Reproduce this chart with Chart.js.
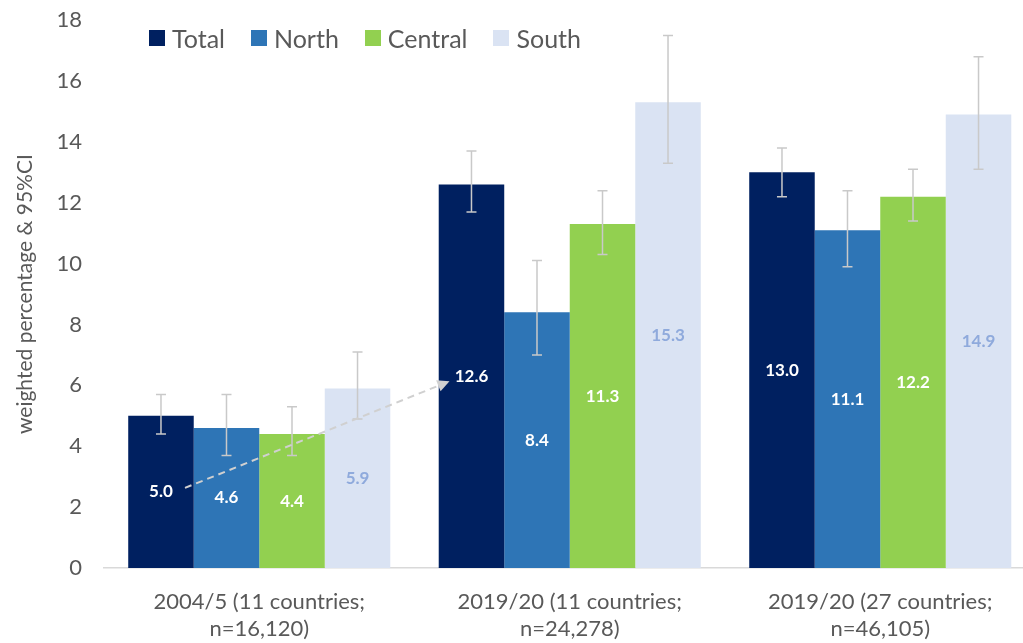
<!DOCTYPE html>
<html>
<head>
<meta charset="utf-8">
<script src="https://cdn.jsdelivr.net/npm/chart.js@4.4.1/dist/chart.umd.min.js"></script>
<style>
  html, body { margin: 0; padding: 0; background: #fff; overflow: hidden; }
  #wrap { position: relative; width: 1040px; height: 650px; margin-top: -7px; }
  #legend {
    position: absolute; top: 30px; left: 149px;
    display: flex; font-family: Lato, sans-serif; font-size: 25px; color: #595959;
  }
  #legend .item { display: flex; align-items: center; margin-right: 26px; }
  #legend .box { width: 16px; height: 16px; margin-right: 7px; }
</style>
</head>
<body>
<div id="wrap">
  <canvas id="prevChart"></canvas>
  <div id="legend"></div>
</div>
<script>
// Survey groups and regional series
const categories = [
    ['2004/5 (11 countries;', 'n=16,120)'],
    ['2019/20 (11 countries;', 'n=24,278)'],
    ['2019/20 (27 countries;', 'n=46,105)']
];
const seriesNames = ['Total', 'North', 'Central', 'South'];
const seriesColors = ['#002060', '#2E75B6', '#92D050', '#DAE3F3'];
const labelColors = ['#ffffff', '#ffffff', '#ffffff', '#8FAADC'];

const total = [5.0, 12.6, 13.0];
const north = [4.6, 8.4, 11.1];
const central = [4.4, 11.3, 12.2];
const south = [5.9, 15.3, 14.9];

// 95% confidence intervals
const totalLow = [4.4, 11.7, 12.2];
const totalHigh = [5.7, 13.7, 13.8];
const northLow = [3.7, 7.0, 9.9];
const northHigh = [5.7, 10.1, 12.4];
const centralLow = [3.7, 10.3, 11.4];
const centralHigh = [5.3, 12.4, 13.1];
const southLow = [4.9, 13.3, 13.1];
const southHigh = [7.1, 17.5, 16.8];

const values = [total, north, central, south];
const lows = [totalLow, northLow, centralLow, southLow];
const highs = [totalHigh, northHigh, centralHigh, southHigh];

const textGrey = '#595959';

// error bars drawn on top of each bar
const errorBars = {
    id: 'errorBars',
    afterDatasetsDraw(chart) {
        const ctx = chart.ctx;
        const y = chart.scales.y;
        ctx.save();
        ctx.strokeStyle = '#c9c9c9';
        ctx.lineWidth = 1.5;
        chart.data.datasets.forEach((ds, i) => {
            chart.getDatasetMeta(i).data.forEach((bar, j) => {
                const top = y.getPixelForValue(highs[i][j]);
                const bot = y.getPixelForValue(lows[i][j]);
                ctx.beginPath();
                ctx.moveTo(bar.x, top); ctx.lineTo(bar.x, bot);
                ctx.moveTo(bar.x - 5, top); ctx.lineTo(bar.x + 5, top);
                ctx.moveTo(bar.x - 5, bot); ctx.lineTo(bar.x + 5, bot);
                ctx.stroke();
            });
        });
        ctx.restore();
    }
};

// value labels centred in the bars, plus the dashed arrow between the two Total bars
const barLabels = {
    id: 'barLabels',
    afterDatasetsDraw(chart) {
        const ctx = chart.ctx;
        ctx.save();
        ctx.font = 'bold 17px Lato, sans-serif';
        ctx.textAlign = 'center';
        ctx.textBaseline = 'middle';
        chart.data.datasets.forEach((ds, i) => {
            ctx.fillStyle = labelColors[i];
            chart.getDatasetMeta(i).data.forEach((bar, j) => {
                ctx.fillText(ds.data[j].toFixed(1), bar.x, (bar.y + bar.base) / 2);
            });
        });

        const t = chart.getDatasetMeta(0).data;
        const x1 = t[0].x + 24, y1 = (t[0].y + t[0].base) / 2 - 4;
        const x2 = t[1].x - 22, y2 = (t[1].y + t[1].base) / 2 + 5;
        ctx.strokeStyle = '#d0d0d0';
        ctx.fillStyle = '#d0d0d0';
        ctx.lineWidth = 2;
        ctx.setLineDash([7, 5]);
        const ang = Math.atan2(y2 - y1, x2 - x1);
        const hx = x2 - 12 * Math.cos(ang), hy = y2 - 12 * Math.sin(ang);
        ctx.beginPath();
        ctx.moveTo(x1, y1); ctx.lineTo(hx, hy);
        ctx.stroke();
        ctx.setLineDash([]);
        ctx.beginPath();
        ctx.moveTo(x2, y2);
        ctx.lineTo(hx + 6 * Math.sin(ang), hy - 6 * Math.cos(ang));
        ctx.lineTo(hx - 6 * Math.sin(ang), hy + 6 * Math.cos(ang));
        ctx.closePath();
        ctx.fill();
        ctx.restore();
    }
};

function buildLegend() {
    const el = document.getElementById('legend');
    seriesNames.forEach((name, i) => {
        const item = document.createElement('div');
        item.className = 'item';
        const box = document.createElement('span');
        box.className = 'box';
        box.style.background = seriesColors[i];
        const txt = document.createElement('span');
        txt.textContent = name;
        item.appendChild(box);
        item.appendChild(txt);
        el.appendChild(item);
    });
}

function createPrevChart() {
    const ctx = document.getElementById('prevChart').getContext('2d');
    new Chart(ctx, {
        type: 'bar',
        data: {
            labels: categories,
            datasets: seriesNames.map((name, i) => ({
                label: name,
                data: values[i],
                backgroundColor: seriesColors[i],
                categoryPercentage: 0.844,
                barPercentage: 1.0
            }))
        },
        options: {
            responsive: true,
            maintainAspectRatio: false,
            animation: false,
            layout: { padding: { top: 3, right: 4.5, left: 0, bottom: 0 } },
            plugins: {
                legend: { display: false },
                tooltip: { enabled: false }
            },
            scales: {
                x: {
                    grid: { display: false },
                    border: { color: '#d9d9d9', width: 1.5 },
                    ticks: {
                        color: textGrey,
                        padding: 12,
                        maxRotation: 0,
                        font: { family: 'Lato', size: 22, lineHeight: 1.23 }
                    },
                    afterFit(scale) { scale.height = 75; }
                },
                y: {
                    min: 0,
                    max: 18,
                    grid: { display: false },
                    border: { display: false },
                    ticks: {
                        stepSize: 2,
                        color: textGrey,
                        padding: 14,
                        font: { family: 'Lato', size: 22 }
                    },
                    title: {
                        display: true,
                        text: 'weighted percentage & 95%CI',
                        color: textGrey,
                        padding: { top: 13, bottom: 0 },
                        font: { family: 'Lato', size: 21 }
                    },
                    afterFit(scale) { scale.width = 104; }
                }
            }
        },
        plugins: [errorBars, barLabels]
    });
}

window.onload = function() {
    buildLegend();
    createPrevChart();
};
</script>
</body>
</html>
